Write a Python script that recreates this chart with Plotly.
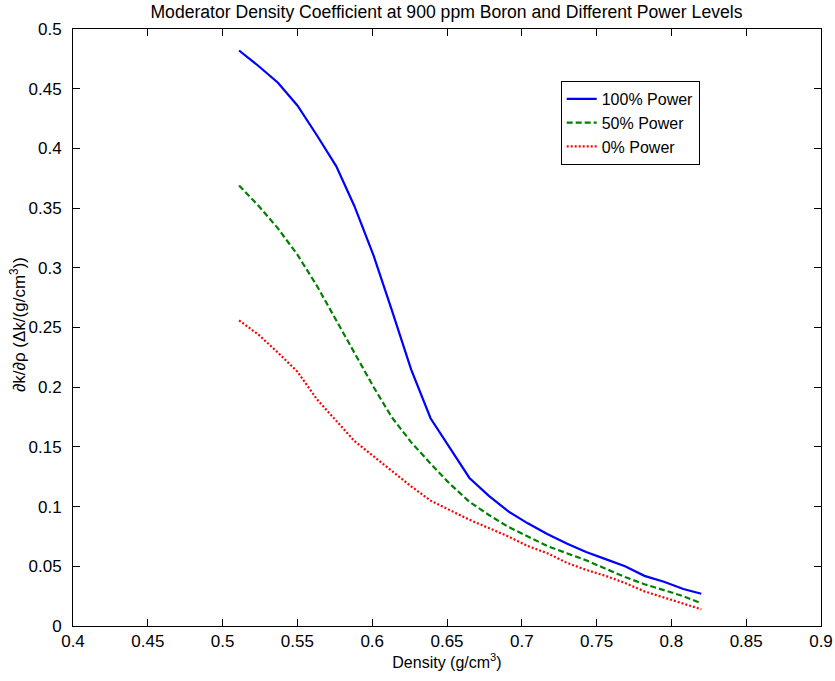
import plotly.graph_objects as go

# Moderator density (g/cm^3)
density = [0.511, 0.524, 0.537, 0.550, 0.563, 0.576, 0.588, 0.601, 0.613,
           0.626, 0.639, 0.652, 0.665, 0.678, 0.691, 0.704, 0.717, 0.730,
           0.743, 0.756, 0.769, 0.782, 0.795, 0.808, 0.820]

# Density coefficient dk/drho for each power level
power_100 = [0.482, 0.469, 0.455, 0.436, 0.411, 0.385, 0.352, 0.310, 0.265,
             0.215, 0.174, 0.149, 0.124, 0.109, 0.096, 0.086, 0.077, 0.069,
             0.062, 0.056, 0.050, 0.042, 0.037, 0.031, 0.027]
power_50 = [0.369, 0.352, 0.333, 0.311, 0.285, 0.256, 0.228, 0.200, 0.175,
            0.154, 0.136, 0.119, 0.104, 0.093, 0.083, 0.075, 0.067, 0.061,
            0.055, 0.048, 0.041, 0.035, 0.030, 0.025, 0.019]
power_0 = [0.256, 0.244, 0.229, 0.213, 0.190, 0.172, 0.155, 0.142, 0.130,
           0.117, 0.105, 0.097, 0.089, 0.082, 0.075, 0.067, 0.061, 0.053,
           0.047, 0.042, 0.036, 0.029, 0.024, 0.019, 0.014]

series_names = ["100% Power", "50% Power", "0% Power"]

x_ticks = [0.4, 0.45, 0.5, 0.55, 0.6, 0.65, 0.7, 0.75, 0.8, 0.85, 0.9]
x_tick_text = ["0.4", "0.45", "0.5", "0.55", "0.6", "0.65", "0.7", "0.75",
               "0.8", "0.85", "0.9"]
y_ticks = [0, 0.05, 0.1, 0.15, 0.2, 0.25, 0.3, 0.35, 0.4, 0.45, 0.5]
y_tick_text = ["0", "0.05", "0.1", "0.15", "0.2", "0.25", "0.3", "0.35",
               "0.4", "0.45", "0.5"]

FONT = "Liberation Sans, Arial, Helvetica, sans-serif"

fig = go.Figure()
fig.add_trace(go.Scatter(x=density, y=power_100, mode="lines",
                         name=series_names[0],
                         line=dict(color="#0000ff", width=2.2)))
fig.add_trace(go.Scatter(x=density, y=power_50, mode="lines",
                         name=series_names[1],
                         line=dict(color="#008000", width=2.2, dash="6px,3px")))
fig.add_trace(go.Scatter(x=density, y=power_0, mode="lines",
                         name=series_names[2],
                         line=dict(color="#ff0000", width=2.2, dash="2px,2px")))

axis_common = dict(
    showline=True, linecolor="black", linewidth=1, mirror="ticks",
    ticks="inside", ticklen=7, tickwidth=1, tickcolor="black",
    showgrid=False, zeroline=False, automargin=False,
    tickfont=dict(family=FONT, size=17, color="black"),
)

fig.update_xaxes(range=[0.4, 0.9], tickvals=x_ticks, ticktext=x_tick_text,
                 title=dict(text="Density (g/cm<sup>3</sup>)",
                            font=dict(family=FONT, size=16, color="black"),
                            standoff=4),
                 **axis_common)
fig.update_yaxes(range=[0, 0.5], tickvals=y_ticks, ticktext=y_tick_text,
                 ticklabelstandoff=7, **axis_common)

# y-axis label, placed close to the tick labels
fig.add_annotation(text="∂k/∂ρ (Δk/(g/cm<sup>3</sup>))",
                   xref="paper", yref="paper", x=0, y=0.504,
                   xanchor="center", yanchor="middle", xshift=-55,
                   textangle=-90, showarrow=False,
                   font=dict(family=FONT, size=17, color="black"))

fig.update_layout(
    width=835, height=681,
    margin=dict(l=73, r=14, t=29, b=55),
    paper_bgcolor="white", plot_bgcolor="white",
    title=dict(text="Moderator Density Coefficient at 900 ppm Boron and Different Power Levels",
               font=dict(family=FONT, size=17.6, color="black"),
               x=0.5347, xanchor="center", y=1 - 12 / 681, yanchor="middle"),
    legend=dict(x=0.652, y=0.913, xanchor="left", yanchor="top",
                bgcolor="white", bordercolor="black", borderwidth=1,
                font=dict(family=FONT, size=16, color="black"),
                tracegroupgap=0),
    showlegend=True,
)

fig.write_html("out.html")
